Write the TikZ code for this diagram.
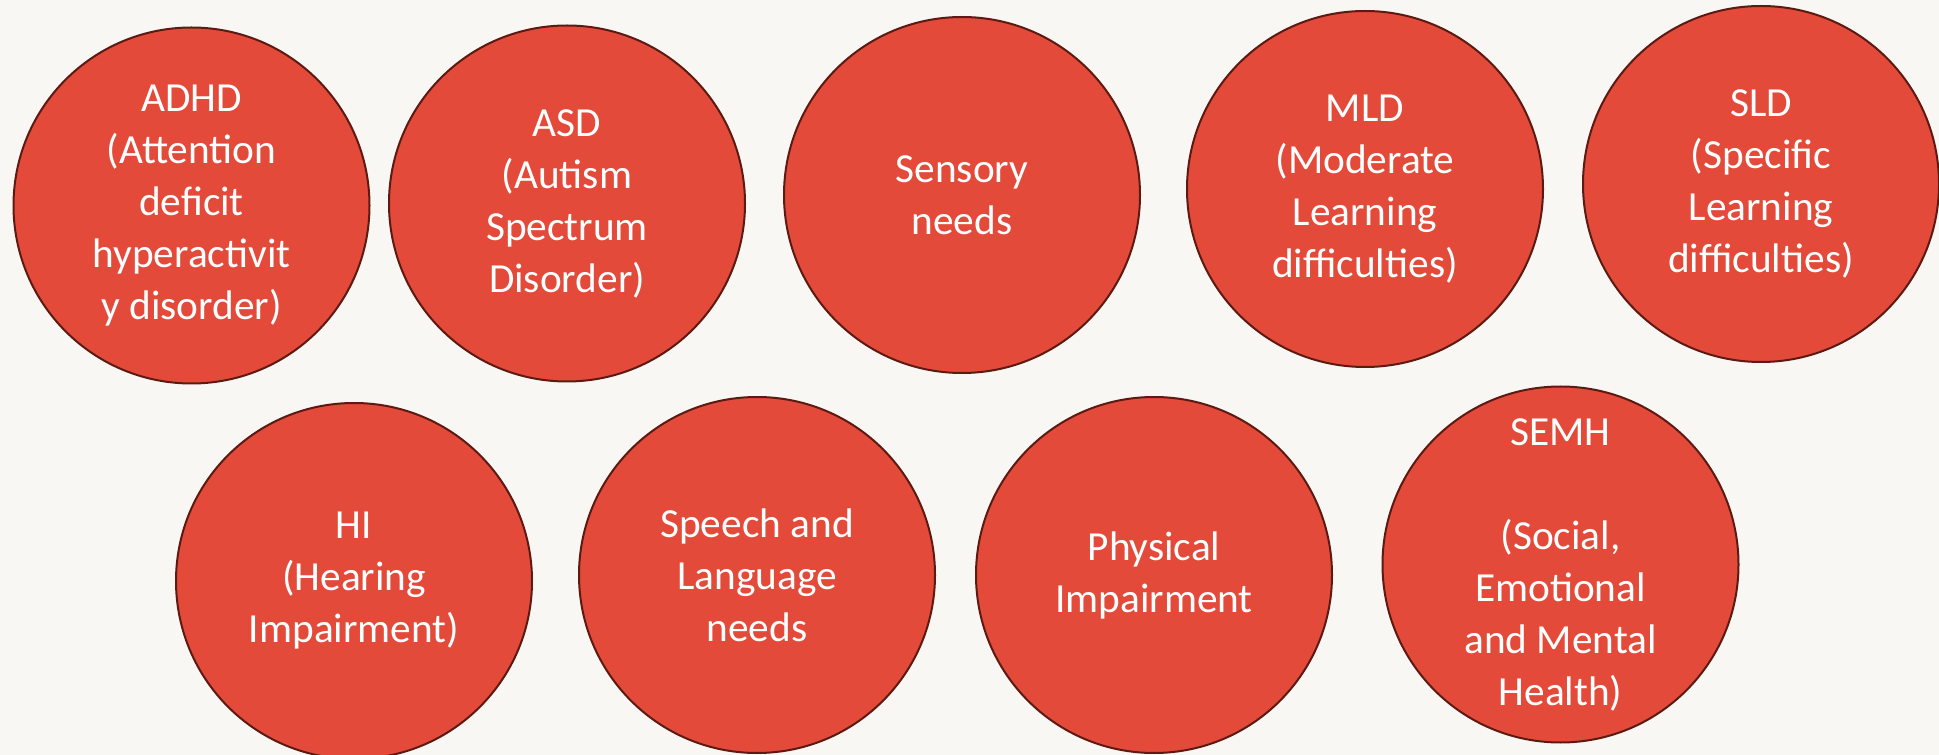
\documentclass[tikz,border=0pt]{standalone}
\usepackage{fontspec}
\setmainfont{Carlito}
\definecolor{needred}{RGB}{227,74,57}
\definecolor{neededge}{RGB}{92,26,18}
\definecolor{paper}{RGB}{248,247,244}

\begin{document}
\begin{tikzpicture}[x=0.75pt,y=0.75pt,yscale=-1,xscale=1,
  need/.style={circle,draw=neededge,line width=1.5pt,fill=needred,minimum size=267pt,inner sep=0pt,
    align=center,text=white,font=\fontsize{31}{39}\selectfont}]
%set diagram to the size of the slide
\fill[paper] (0,0) rectangle (1939,755);
\useasboundingbox (0,0) rectangle (1939,755);

%Shape: Circle, top row
\node [need] (adhd) at (191.5,205.5) {ADHD\\(Attention\\deficit\\hyperactivit\\y disorder)};
\node [need] (asd) at (567,203.5) {ASD\\(Autism\\Spectrum\\Disorder)};
\node [need] (sensory) at (962,195) {Sensory\\needs};
\node [need] (mld) at (1365,189) {MLD\\(Moderate\\Learning\\difficulties)};
\node [need] (sld) at (1761,184) {SLD\\(Specific\\Learning\\difficulties)};

%Shape: Circle, bottom row
\node [need] (hi) at (354,581) {HI\\(Hearing\\Impairment)};
\node [need] (speech) at (757,575) {Speech and\\Language\\needs};
\node [need] (physical) at (1154,575) {Physical\\Impairment};
\node [need] (semh) at (1560.5,564.5) {SEMH\\[39pt](Social,\\Emotional\\and Mental\\Health)};

\end{tikzpicture}
\end{document}
